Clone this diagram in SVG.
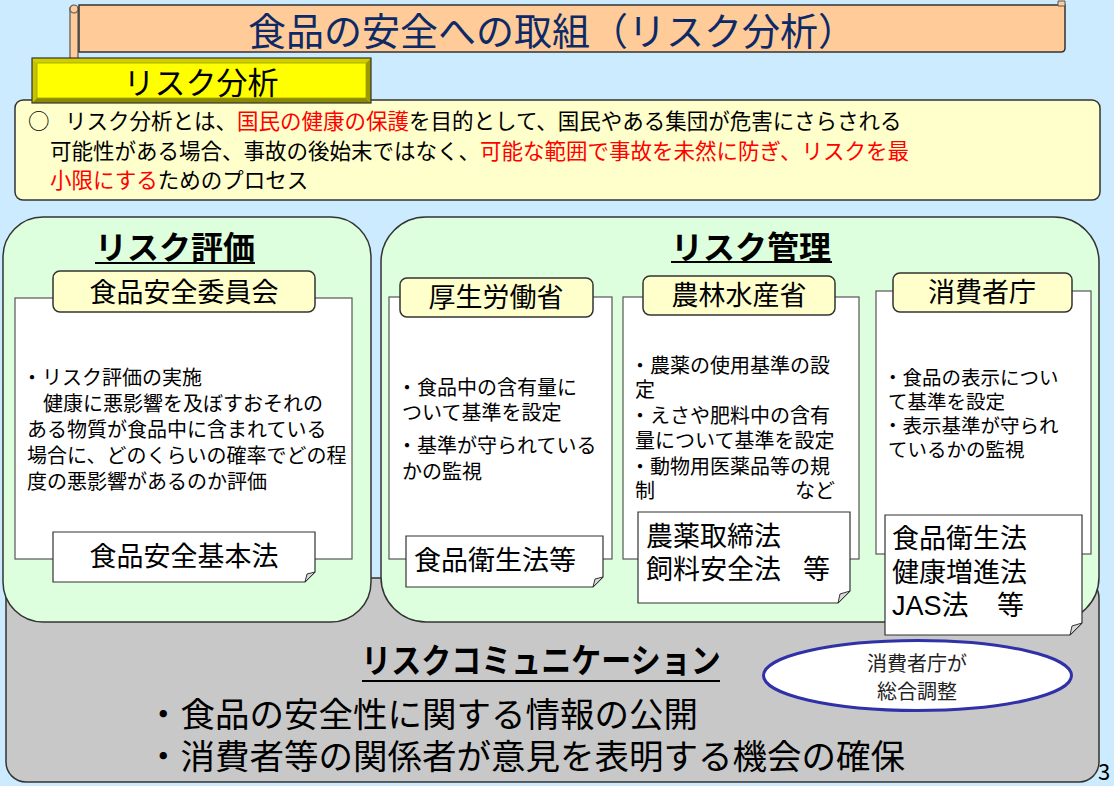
<svg xmlns="http://www.w3.org/2000/svg" width="1114" height="786" viewBox="0 0 1114 786">
<defs>
<style>
text{font-family:"Noto Sans CJK JP","Noto Sans CJK SC",sans-serif;fill:#000}
.hdr{fill:#FFFFCC;stroke:#333;stroke-width:1.5}
.wbox{fill:#fff;stroke:#555;stroke-width:1.2}
.note{fill:#fff;stroke:#333;stroke-width:1.2}
.fold{fill:#d8d8d8;stroke:#333;stroke-width:1}
.green{fill:#DDFFDD;stroke:#333;stroke-width:1.5}
.b{font-size:20px}
.h{font-size:27px;text-anchor:middle}
.n{font-size:27px}
.red{fill:#FF0000}
</style>
</defs>
<rect x="0" y="0" width="1114" height="786" fill="#CCEBFF"/>

<g id="title">
<rect x="70" y="8" width="8" height="52" fill="#FFCC99" stroke="#555" stroke-width="1.2"/>
<circle cx="74" cy="9" r="4" fill="#FFCC99" stroke="#555" stroke-width="1.2"/>
<path d="M79 5 H1065 V48 Q1065 52 1061 52 H79 Z" fill="#FFCC99" stroke="#333" stroke-width="1.5"/>
<path d="M1058 1 H1065 V6 H1058 Z" fill="#FFCC99" stroke="#555" stroke-width="1"/>
<text x="552" y="45" font-size="38" text-anchor="middle" style="fill:#0D2A66">食品の安全への取組（リスク分析）</text>
</g>

<g id="definition">
<rect x="15" y="100" width="1085" height="100" rx="8" fill="#FFFFCC" stroke="#333" stroke-width="1.5"/>
<text x="28" y="129" font-size="21.5">○<tspan x="65">リスク分析とは、</tspan><tspan class="red">国民の健康の保護</tspan>を目的として、国民やある集団が危害にさらされる</text>
<text x="50" y="159" font-size="21.5">可能性がある場合、事故の後始末ではなく、<tspan class="red">可能な範囲で事故を未然に防ぎ、リスクを最</tspan></text>
<text x="50" y="188" font-size="21.5"><tspan class="red">小限にする</tspan>ためのプロセス</text>
</g>

<g id="risk-analysis-label">
<rect x="32" y="58" width="339" height="45" fill="#FFFF00"/>
<polygon points="32,58 371,58 366,63 37,63" fill="#CFCF00"/>
<polygon points="32,58 37,63 37,98 32,103" fill="#C4C400"/>
<polygon points="371,58 371,103 366,98 366,63" fill="#9A9A00"/>
<polygon points="32,103 371,103 366,98 37,98" fill="#8A8A00"/>
<rect x="37" y="63" width="329" height="35" fill="none" stroke="#A0A000" stroke-width="0.8"/>
<rect x="32" y="58" width="339" height="45" fill="none" stroke="#333" stroke-width="1.2"/>
<text x="201" y="94" font-size="31" text-anchor="middle">リスク分析</text>
</g>

<g id="risk-communication">
<rect x="6" y="578" width="1093" height="204" rx="20" fill="#C8C8C8" stroke="#333" stroke-width="1.5"/>
<text x="541" y="673" font-size="30" font-weight="bold" text-anchor="middle" transform="translate(0,673) scale(1,1.12) translate(0,-673)">リスクコミュニケーション</text>
<line x1="362" y1="681" x2="720" y2="681" stroke="#000" stroke-width="2"/>
<text x="146" y="727" font-size="34.5">・食品の安全性に関する情報の公開</text>
<text x="146" y="769" font-size="34.5">・消費者等の関係者が意見を表明する機会の確保</text>
</g>

<g id="risk-assessment">
<rect class="green" x="3" y="217" width="368" height="405" rx="40"/>
<text x="175" y="259" font-size="32" font-weight="bold" text-anchor="middle">リスク評価</text>
<line x1="95" y1="263" x2="255" y2="263" stroke="#000" stroke-width="2"/>
</g>

<g id="risk-management">
<rect class="green" x="381" y="217" width="718" height="405" rx="45"/>
<text x="751" y="259" font-size="32" font-weight="bold" text-anchor="middle">リスク管理</text>
<line x1="671" y1="262" x2="832" y2="262" stroke="#000" stroke-width="2"/>
</g>

<g id="fsc">
<rect class="wbox" x="15" y="298" width="337" height="261"/>
<rect class="hdr" x="53" y="271" width="262" height="41" rx="7"/>
<text class="h" x="184" y="302">食品安全委員会</text>
<text class="b" x="22" y="385">・リスク評価の実施</text>
<text class="b" x="43" y="411">健康に悪影響を及ぼすおそれの</text>
<text class="b" x="27" y="437">ある物質が食品中に含まれている</text>
<text class="b" x="27" y="463">場合に、どのくらいの確率でどの程</text>
<text class="b" x="27" y="489">度の悪影響があるのか評価</text>
<path class="note" d="M53 532 H315 V572 L305 582 H53 Z"/>
<path class="fold" d="M305 582 L307 574 L315 572 Z"/>
<text class="h" x="184" y="566">食品安全基本法</text>
</g>

<g id="mhlw">
<rect class="wbox" x="389" y="297" width="223" height="262"/>
<rect class="hdr" x="400" y="278" width="193" height="39" rx="7"/>
<text class="h" x="496" y="307">厚生労働省</text>
<text class="b" x="397" y="395">・食品中の含有量に</text>
<text class="b" x="402" y="420">ついて基準を設定</text>
<text class="b" x="397" y="453">・基準が守られている</text>
<text class="b" x="402" y="479">かの監視</text>
<path class="note" d="M406 536 H603 V577 L593 587 H406 Z"/>
<path class="fold" d="M593 587 L595 579 L603 577 Z"/>
<text class="n" x="414" y="570">食品衛生法等</text>
</g>

<g id="maff">
<rect class="wbox" x="623" y="297" width="236" height="262"/>
<rect class="hdr" x="643" y="276" width="192" height="39" rx="7"/>
<text class="h" x="739" y="305">農林水産省</text>
<text class="b" x="630" y="373">・農薬の使用基準の設</text>
<text class="b" x="635" y="397">定</text>
<text class="b" x="630" y="423">・えさや肥料中の含有</text>
<text class="b" x="635" y="448">量について基準を設定</text>
<text class="b" x="630" y="474">・動物用医薬品等の規</text>
<text class="b" x="635" y="498">制<tspan x="795">など</tspan></text>
<path class="note" d="M638 512 H850 V591 L838 603 H638 Z"/>
<path class="fold" d="M838 603 L840 594 L850 591 Z"/>
<text class="n" x="646" y="546">農薬取締法</text>
<text class="n" x="646" y="579">飼料安全法<tspan x="803">等</tspan></text>
</g>

<g id="caa">
<rect class="wbox" x="876" y="291" width="215" height="263"/>
<rect class="hdr" x="893" y="273" width="179" height="39" rx="7"/>
<text class="h" x="982" y="302">消費者庁</text>
<text x="883" y="385" font-size="19.5">・食品の表示につい</text>
<text x="888" y="409" font-size="19.5">て基準を設定</text>
<text x="883" y="433" font-size="19.5">・表示基準が守られ</text>
<text x="888" y="457" font-size="19.5">ているかの監視</text>
<path class="note" d="M885 515 H1082 V623 L1070 635 H885 Z"/>
<path class="fold" d="M1070 635 L1072 626 L1082 623 Z"/>
<text class="n" x="892" y="548">食品衛生法</text>
<text class="n" x="892" y="582">健康増進法</text>
<text class="n" x="892" y="615"><tspan font-family="Liberation Sans, Arial, sans-serif">JAS</tspan>法<tspan x="997">等</tspan></text>
</g>

<g id="coordination">
<ellipse cx="917.5" cy="675.5" rx="154" ry="35" fill="#fff" stroke="#3030A8" stroke-width="3"/>
<text x="917" y="671" font-size="20" text-anchor="middle" style="fill:#222">消費者庁が</text>
<text x="917" y="699" font-size="20" text-anchor="middle" style="fill:#222">総合調整</text>
</g>

<g id="connectors"></g>

<text x="1098" y="780" font-size="22" font-family="Liberation Sans, sans-serif">3</text>
</svg>
